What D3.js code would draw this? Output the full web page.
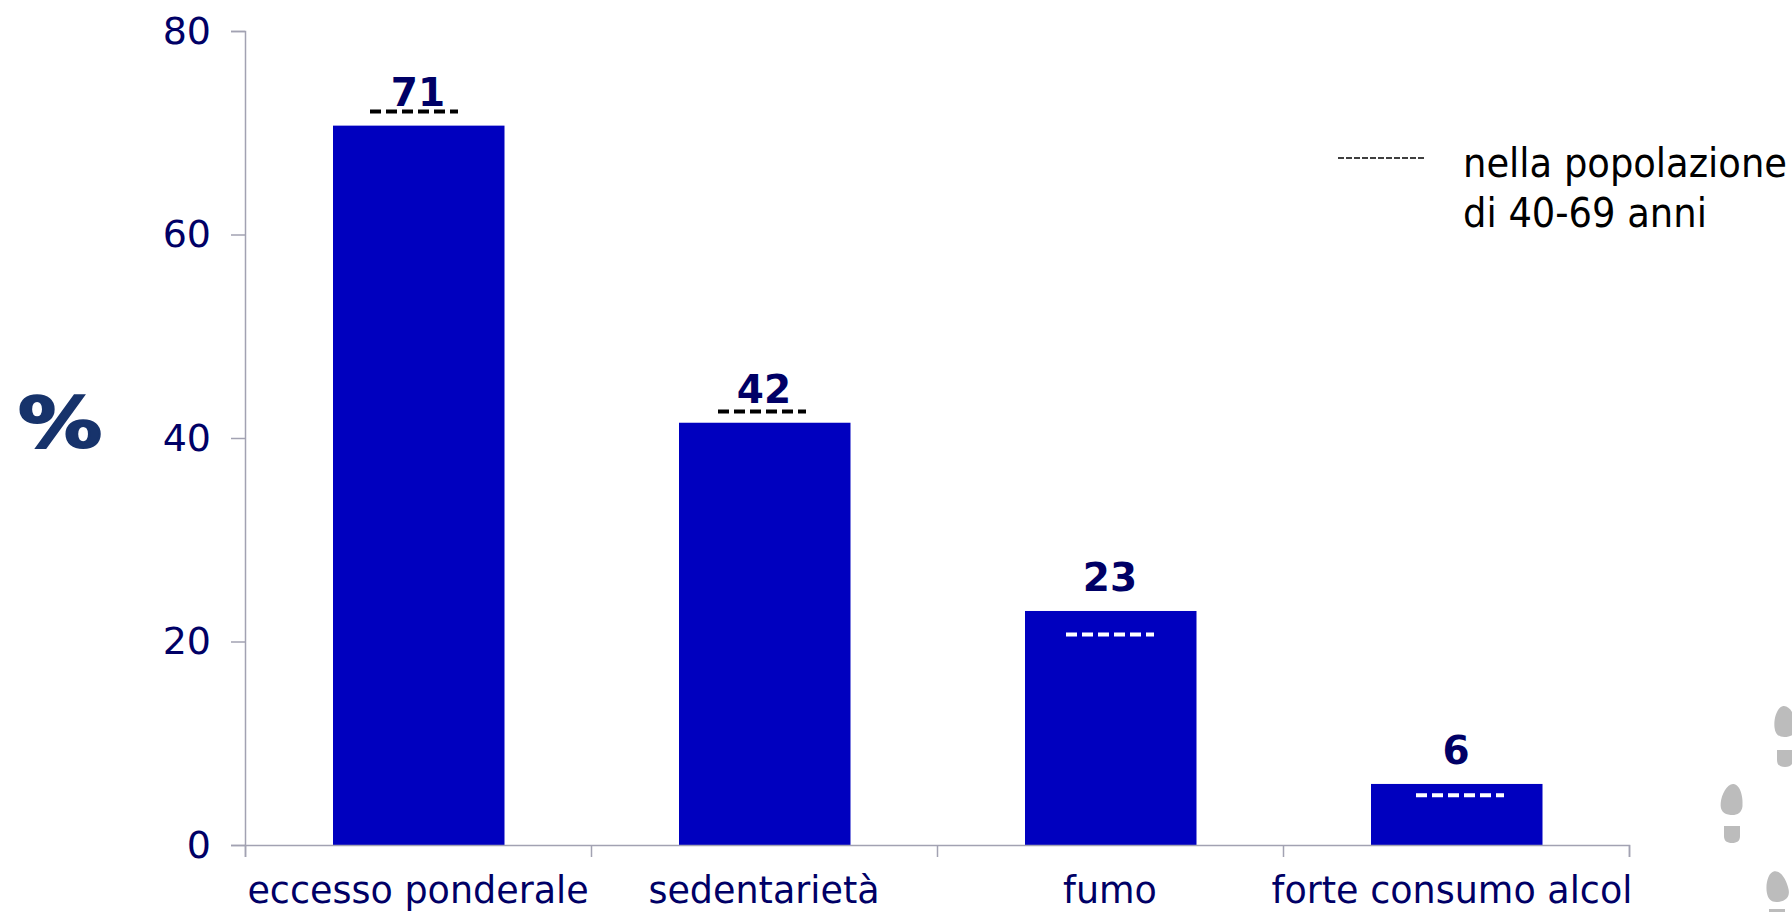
<!DOCTYPE html>
<html>
<head>
<meta charset="utf-8">
<script src="https://cdn.jsdelivr.net/npm/d3@7"></script>
<style>
  html, body { margin: 0; padding: 0; background: #fff; overflow: hidden; }
</style>
</head>
<body>
<div id="chart"></div>
<script>
// Data
const categories = ["eccesso ponderale", "sedentarietà", "fumo", "forte consumo alcol"];
const values = [70.7, 41.5, 23, 6];
const valueLabels = ["71", "42", "23", "6"];
const popValues = [72.1, 42.6, 20.7, 4.9]; // dashed marks, population 40-69
const yTicks = [0, 20, 40, 60, 80];
const legendLines = ["nella popolazione", "di 40-69 anni"];

const width = 1792, height = 912;
const margin = { top: 31, right: 163, bottom: 67, left: 245 };

const svg = d3.select("#chart")
  .append("svg")
    .attr("width", width)
    .attr("height", height)
    .style("display", "block");

const x = d3.scaleBand()
  .domain(categories)
  .range([margin.left, width - margin.right])
  .paddingInner(0.5)
  .paddingOuter(0.25);

const y = d3.scaleLinear()
  .domain([0, 80])
  .range([height - margin.bottom, margin.top]);

const navy = "#000066";
const center = d => x(d) + x.bandwidth() / 2;

// Bars
svg.selectAll(".bar")
  .data(categories)
  .join("rect")
    .attr("class", "bar")
    .attr("x", d => x(d) + 1.5)
    .attr("y", (d, i) => y(values[i]))
    .attr("width", x.bandwidth() - 1.5)
    .attr("height", (d, i) => y(0) - y(values[i]))
    .attr("fill", "#0000bf");

// Y axis
const yAxis = svg.append("g")
  .attr("transform", `translate(${margin.left},0)`)
  .call(d3.axisLeft(y).tickValues(yTicks).tickSize(14).tickPadding(20));
yAxis.selectAll("text")
  .attr("fill", navy)
  .style("font", "38px 'DejaVu Sans'");

// X axis, ticks sit between the categories
const xEdges = d3.scaleLinear().domain([0, categories.length]).range(x.range());
svg.append("g")
  .attr("transform", `translate(0,${y(0)})`)
  .call(d3.axisBottom(xEdges).tickValues(d3.range(categories.length + 1)).tickSize(12).tickFormat(""));

svg.selectAll(".domain, .tick line")
  .attr("stroke", "#a2a2b2")
  .attr("stroke-width", 1.5);

// Category labels
const labelNudge = [0, 0, 0, -4];
svg.selectAll(".cat")
  .data(categories)
  .join("text")
    .attr("class", "cat")
    .attr("x", (d, i) => center(d) + labelNudge[i])
    .attr("y", 903)
    .attr("text-anchor", "middle")
    .attr("fill", navy)
    .style("font", "36.5px 'DejaVu Sans'")
    .text(d => d);

// Value labels
svg.selectAll(".val")
  .data(valueLabels)
  .join("text")
    .attr("class", "val")
    .attr("x", (d, i) => center(categories[i]))
    .attr("y", (d, i) => y(values[i]) - 20)
    .attr("text-anchor", "middle")
    .attr("fill", navy)
    .style("font", "bold 39px 'DejaVu Sans'")
    .text(d => d);

// Dashed population marks, black above the bar and white inside it
const dashNudge = [-4, -2, 0, 4];
svg.selectAll(".pop")
  .data(popValues)
  .join("line")
    .attr("class", "pop")
    .attr("x1", (d, i) => center(categories[i]) + dashNudge[i] - 44)
    .attr("x2", (d, i) => center(categories[i]) + dashNudge[i] + 44)
    .attr("y1", d => y(d))
    .attr("y2", d => y(d))
    .attr("stroke", (d, i) => d > values[i] ? "#000" : "#fff")
    .attr("stroke-width", 4)
    .attr("stroke-dasharray", "11 5");

// Y title
svg.append("text")
  .attr("transform", "translate(60,447) scale(1.2,1)")
  .attr("text-anchor", "middle")
  .attr("fill", "#17336b")
  .attr("stroke", "#17336b")
  .attr("stroke-width", 2)
  .style("font", "bold 70px 'DejaVu Sans'")
  .text("%");

// Legend
svg.append("line")
  .attr("x1", 1338).attr("x2", 1425)
  .attr("y1", 158).attr("y2", 158)
  .attr("stroke", "#000")
  .attr("stroke-width", 1.5)
  .attr("stroke-dasharray", "6 2");

svg.selectAll(".legend")
  .data(legendLines)
  .join("text")
    .attr("class", "legend")
    .attr("x", 1463)
    .attr("y", (d, i) => 177 + i * 50)
    .attr("fill", "#000")
    .style("font", "41px 'DejaVu Sans Condensed', 'DejaVu Sans'")
    .text(d => d);

// Footprints in the lower right corner
const soleShape = "M0,-16 C7,-16 11,-4 11,5 C11,12 6,15 0,15 C-7,15 -11,12 -11,4 C-11,-5 -6,-16 0,-16 Z";
const heelShape = "M-8,-8 L8,-8 L8,2 C8,7 5,9 0,9 C-5,9 -8,7 -8,2 Z";
const prints = [[1785, 722, 758, -6], [1732, 800, 834, 5], [1777, 887, 917, -10]];
prints.forEach(p => {
  svg.append("path").attr("d", soleShape).attr("fill", "#bcbcbc")
    .attr("transform", `translate(${p[0]},${p[1]}) rotate(${p[3]})`);
  svg.append("path").attr("d", heelShape).attr("fill", "#bcbcbc")
    .attr("transform", `translate(${p[0]},${p[2]})`);
});
</script>
</body>
</html>
